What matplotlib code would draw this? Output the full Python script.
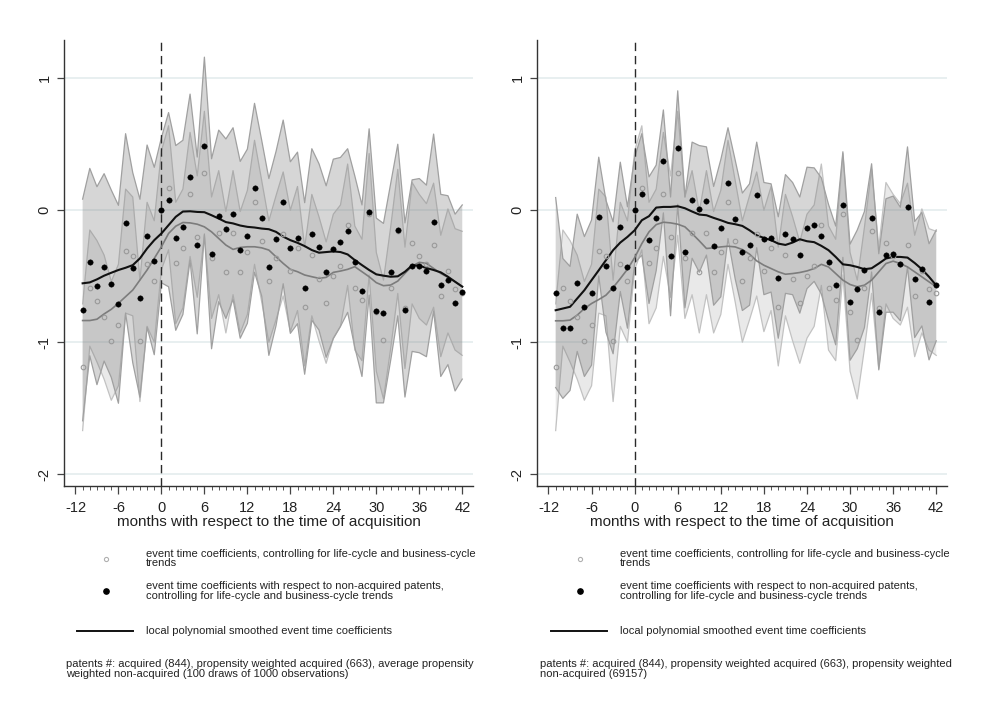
import matplotlib.pyplot as plt
import numpy as np
from matplotlib.lines import Line2D

plt.rcParams['font.family'] = ['Liberation Sans', 'DejaVu Sans']
plt.rcParams['axes.unicode_minus'] = False

# months with respect to acquisition
months = list(range(-11, 43))

# event time coefficients (same in both panels)
gray_pts = [-1.19, -0.59, -0.69, -0.81, -0.99, -0.87, -0.31, -0.35, -0.99, -0.41, -0.54,
            0.0, 0.17, -0.40, -0.29, 0.12, -0.20, 0.28, -0.36, -0.17, -0.47, -0.17,
            -0.47, -0.32, 0.06, -0.235, -0.54, -0.36, -0.18, -0.46, -0.29, -0.73, -0.34,
            -0.52, -0.70, -0.50, -0.42, -0.11, -0.59, -0.68, -0.03, -0.77, -0.98, -0.59,
            -0.16, -0.74, -0.25, -0.35, -0.41, -0.265, -0.65, -0.46, -0.60, -0.63]
gray_hw = [0.48, 0.44, 0.46, 0.47, 0.45, 0.46, 0.47, 0.45, 0.46, 0.47, 0.46,
           0.45, 0.47, 0.46, 0.45, 0.47, 0.46, 0.47, 0.46, 0.47, 0.46, 0.47,
           0.46, 0.47, 0.47, 0.46, 0.46, 0.47, 0.47, 0.46, 0.47, 0.45, 0.46,
           0.47, 0.46, 0.47, 0.46, 0.46, 0.47, 0.46, 0.46, 0.45, 0.45, 0.46,
           0.47, 0.46, 0.46, 0.47, 0.46, 0.47, 0.46, 0.47, 0.46, 0.47]

# left panel: average propensity weighted non-acquired
black_left = [-0.756, -0.393, -0.572, -0.433, -0.557, -0.713, -0.10, -0.436, -0.667, -0.196, -0.385,
              0.0, 0.08, -0.21, -0.13, 0.25, -0.267, 0.49, -0.33, -0.043, -0.14, -0.025,
              -0.30, -0.197, 0.17, -0.06, -0.43, -0.215, 0.063, -0.283, -0.21, -0.593, -0.184,
              -0.278, -0.465, -0.293, -0.24, -0.154, -0.39, -0.61, -0.013, -0.76, -0.78, -0.47,
              -0.15, -0.756, -0.42, -0.42, -0.46, -0.093, -0.57, -0.53, -0.70, -0.62]
black_left_hw = [0.84, 0.71, 0.75, 0.71, 0.71, 0.75, 0.68, 0.72, 0.75, 0.69, 0.71,
                 0.55, 0.66, 0.70, 0.66, 0.63, 0.67, 0.67, 0.72, 0.65, 0.68, 0.65,
                 0.67, 0.66, 0.64, 0.59, 0.67, 0.66, 0.62, 0.65, 0.65, 0.65, 0.65,
                 0.63, 0.65, 0.68, 0.64, 0.62, 0.65, 0.65, 0.63, 0.70, 0.68, 0.67,
                 0.65, 0.66, 0.65, 0.66, 0.65, 0.67, 0.69, 0.64, 0.67, 0.66]
smooth_black_left = [-0.554, -0.547, -0.524, -0.496, -0.474, -0.453, -0.436, -0.416, -0.365, -0.29, -0.227,
                     -0.176, -0.113, -0.05, -0.01, -0.008, -0.013, -0.015, -0.038, -0.063, -0.09, -0.1,
                     -0.116, -0.126, -0.131, -0.139, -0.144, -0.164, -0.2, -0.227, -0.247, -0.272, -0.302,
                     -0.322, -0.317, -0.312, -0.317, -0.335, -0.378, -0.416, -0.453, -0.486, -0.496, -0.504,
                     -0.501, -0.466, -0.418, -0.42, -0.438, -0.453, -0.471, -0.504, -0.542, -0.579]
smooth_gray_left = [-0.836, -0.836, -0.826, -0.786, -0.751, -0.705, -0.655, -0.605, -0.529, -0.453, -0.365,
                    -0.277, -0.176, -0.121, -0.093, -0.096, -0.106, -0.126, -0.164, -0.214, -0.264, -0.297,
                    -0.282, -0.277, -0.277, -0.285, -0.302, -0.353, -0.403, -0.448, -0.466, -0.491, -0.504,
                    -0.516, -0.509, -0.471, -0.461, -0.448, -0.428, -0.466, -0.504, -0.549, -0.572, -0.567,
                    -0.537, -0.479, -0.423, -0.395, -0.403, -0.441, -0.479, -0.509, -0.542, -0.579]

# right panel: propensity weighted non-acquired
black_right = [-0.624, -0.896, -0.896, -0.55, -0.73, -0.624, -0.048, -0.424, -0.588, -0.126, -0.434,
               0.0, 0.12, -0.227, -0.058, 0.37, -0.35, 0.475, -0.32, 0.076, 0.01, 0.07,
               -0.27, -0.136, 0.205, -0.07, -0.315, -0.26, 0.116, -0.215, -0.21, -0.51, -0.18,
               -0.215, -0.34, -0.134, -0.109, -0.195, -0.396, -0.57, 0.043, -0.697, -0.60, -0.45,
               -0.058, -0.77, -0.343, -0.333, -0.407, 0.025, -0.525, -0.447, -0.694, -0.57]
black_right_hw = [0.72, 0.53, 0.47, 0.52, 0.53, 0.55, 0.45, 0.50, 0.50, 0.49, 0.46,
                  0.40, 0.46, 0.48, 0.40, 0.39, 0.45, 0.43, 0.42, 0.44, 0.48, 0.41,
                  0.45, 0.52, 0.42, 0.45, 0.445, 0.46, 0.40, 0.425, 0.41, 0.46, 0.45,
                  0.425, 0.44, 0.46, 0.43, 0.44, 0.44, 0.45, 0.40, 0.44, 0.45, 0.44,
                  0.41, 0.44, 0.43, 0.44, 0.43, 0.455, 0.44, 0.43, 0.44, 0.42]
smooth_black_right = [-0.758, -0.745, -0.732, -0.669, -0.606, -0.53, -0.455, -0.379, -0.303, -0.245, -0.202,
                      -0.152, -0.076, -0.045, 0.02, 0.025, 0.025, 0.03, 0.015, -0.01, -0.033, -0.038,
                      -0.058, -0.076, -0.096, -0.106, -0.119, -0.152, -0.19, -0.21, -0.227, -0.253, -0.263,
                      -0.245, -0.22, -0.235, -0.242, -0.27, -0.303, -0.354, -0.41, -0.417, -0.43, -0.447,
                      -0.44, -0.404, -0.366, -0.354, -0.354, -0.359, -0.4, -0.447, -0.505, -0.57]
smooth_gray_right = [-0.838, -0.838, -0.833, -0.795, -0.745, -0.707, -0.677, -0.644, -0.586, -0.518, -0.447,
                     -0.359, -0.253, -0.164, -0.109, -0.091, -0.096, -0.106, -0.126, -0.177, -0.232, -0.29,
                     -0.285, -0.278, -0.273, -0.278, -0.298, -0.333, -0.384, -0.417, -0.442, -0.467, -0.485,
                     -0.48, -0.472, -0.46, -0.442, -0.41, -0.43, -0.48, -0.53, -0.563, -0.58, -0.568,
                     -0.53, -0.467, -0.404, -0.386, -0.404, -0.43, -0.467, -0.505, -0.543, -0.58]

xticks = [-12, -6, 0, 6, 12, 18, 24, 30, 36, 42]
yticks = [-2, -1, 0, 1]

legend_gray = "event time coefficients, controlling for life-cycle and business-cycle\ntrends"
legend_black = ("event time coefficients with respect to non-acquired patents,\n"
                "controlling for life-cycle and business-cycle trends")
legend_line = "local polynomial smoothed event time coefficients"
note_left = ("patents #: acquired (844), propensity weighted acquired (663), average propensity\n"
             "weighted non-acquired (100 draws of 1000 observations)")
note_right = ("patents #: acquired (844), propensity weighted acquired (663), propensity weighted\n"
              "non-acquired (69157)")

W, H = 984, 711
fig = plt.figure(figsize=(W / 100, H / 100), dpi=100)


def fx(px):
    return px / W


def fy(py):
    return 1 - py / H


def draw_panel(ax, black, black_hw, sm_black, sm_gray):
    x = np.array(months)
    g = np.array(gray_pts)
    gh = np.array(gray_hw)
    b = np.array(black)
    bh = np.array(black_hw)

    for yv in yticks:
        ax.axhline(yv, color='#e4ecee', lw=1.2, zorder=0)

    # confidence bands
    ax.fill_between(x, g - gh, g + gh, facecolor='#808080', alpha=0.17, edgecolor='none', zorder=1)
    ax.plot(x, g + gh, color='#c2c2c2', lw=0.9, zorder=1.1)
    ax.plot(x, g - gh, color='#c2c2c2', lw=0.9, zorder=1.1)
    ax.fill_between(x, b - bh, b + bh, facecolor='#7a7a7a', alpha=0.30, edgecolor='none', zorder=2)
    ax.plot(x, b + bh, color='#a0a0a0', lw=0.9, zorder=2.1)
    ax.plot(x, b - bh, color='#a0a0a0', lw=0.9, zorder=2.1)

    ax.axvline(0, color='#2a2a2a', lw=1.0, ls=(0, (6, 3.5)), zorder=3)

    ax.plot(x, sm_gray, color='#7c7c7c', lw=1.2, zorder=4)
    ax.plot(x, sm_black, color='#111111', lw=1.5, zorder=5)

    ax.plot(x, g, ls='none', marker='o', ms=3.3, mfc='none', mec='#9a9a9a', mew=0.8, zorder=6)
    ax.plot(x, b, ls='none', marker='o', ms=3.9, mfc='black', mec='black', mew=0.3, zorder=7)

    ax.set_xlim(-13.6, 43.5)
    ax.set_ylim(-2.09, 1.29)
    ax.set_xticks(xticks)
    ax.set_xticks(months + [-12], minor=True)
    ax.set_yticks(yticks)
    ax.tick_params(axis='x', which='major', length=5.5, width=0.9, color='#444444',
                   labelsize=10.5, pad=5, labelcolor='#222222')
    ax.tick_params(axis='x', which='minor', length=3.2, width=0.7, color='#555555')
    ax.tick_params(axis='y', which='major', length=4.8, width=0.9, color='#444444',
                   labelsize=10.5, pad=4, labelcolor='#222222')
    for lab in ax.get_yticklabels():
        lab.set_rotation(90)
        lab.set_va('center')
    ax.set_xlabel('months with respect to the time of acquisition', fontsize=11,
                  color='#222222', labelpad=0)
    for s in ['top', 'right']:
        ax.spines[s].set_visible(False)
    for s in ['left', 'bottom']:
        ax.spines[s].set_color('#333333')
        ax.spines[s].set_linewidth(1.0)


def draw_legend(x0, note):
    # x0: pixel x where the legend line sample starts
    fs = 8.0
    mx = x0 + 29
    tx = x0 + 69
    fig.add_artist(Line2D([fx(mx)], [fy(559)], ls='none', marker='o', ms=3.0, mfc='none',
                          mec='#b0b0b0', mew=0.8, transform=fig.transFigure))
    fig.text(fx(tx), fy(558.5), legend_gray, fontsize=fs, va='center', ha='left',
             color='#222222', linespacing=0.98)
    fig.add_artist(Line2D([fx(mx)], [fy(591)], ls='none', marker='o', ms=3.8, mfc='black',
                          mec='black', transform=fig.transFigure))
    fig.text(fx(tx), fy(591), legend_black, fontsize=fs, va='center', ha='left',
             color='#222222', linespacing=0.98)
    fig.add_artist(Line2D([fx(x0), fx(x0 + 56)], [fy(630.5), fy(630.5)], color='#111111',
                          lw=1.4, transform=fig.transFigure))
    fig.text(fx(tx), fy(630.5), legend_line, fontsize=fs, va='center', ha='left', color='#222222')
    fig.text(fx(x0 - 10.5), fy(669), note, fontsize=fs, va='center', ha='left',
             color='#222222', linespacing=0.98)


ax_l = fig.add_axes([fx(64), fy(486), 409 / W, 446 / H])
ax_r = fig.add_axes([fx(537), fy(486), 410 / W, 446 / H])

draw_panel(ax_l, black_left, black_left_hw, smooth_black_left, smooth_gray_left)
draw_panel(ax_r, black_right, black_right_hw, smooth_black_right, smooth_gray_right)

draw_legend(77, note_left)
draw_legend(551, note_right)

fig.savefig('out.png', dpi=100)
